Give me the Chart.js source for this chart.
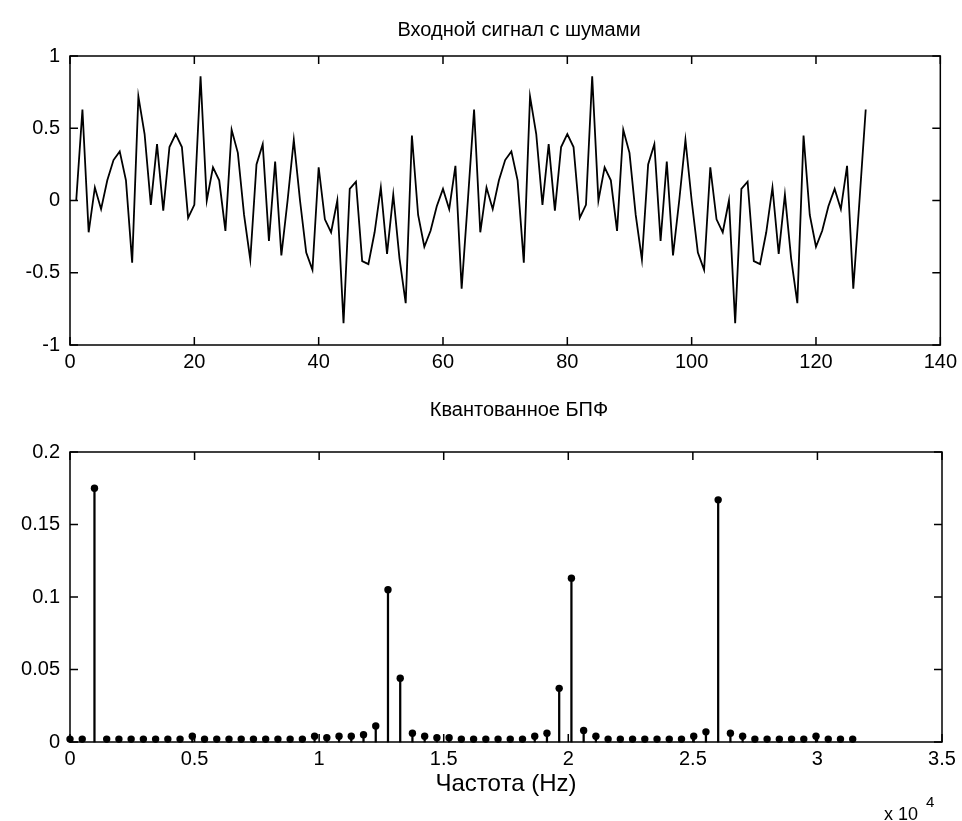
<!DOCTYPE html>
<html>
<head>
<meta charset="utf-8">
<script src="https://cdn.jsdelivr.net/npm/chart.js@4"></script>
<style>
html,body{margin:0;padding:0;background:#fff;}
#wrap{position:relative;width:962px;height:821px;overflow:hidden;background:#fff;}
.box{position:absolute;left:0;width:962px;}
</style>
</head>
<body>
<div id="wrap">
  <div class="box" style="top:0;height:385px"><canvas id="c1" width="962" height="385"></canvas></div>
  <div class="box" style="top:385px;height:436px"><canvas id="c2" width="962" height="436"></canvas></div>
</div>
<script>
// ---------- DATA ----------
const title1 = 'Входной сигнал с шумами';
const title2 = 'Квантованное БПФ';
const xLabel2 = 'Частота (Hz)';

// input signal, samples 1..128
const signal = [
   0.00, 0.63,-0.22, 0.09,-0.06, 0.14, 0.28, 0.34, 0.14,-0.43,
   0.72, 0.46,-0.03, 0.39,-0.07, 0.37, 0.46, 0.37,-0.12,-0.03,
   0.86, 0.00, 0.23, 0.14,-0.21, 0.49, 0.33,-0.10,-0.41, 0.25,
   0.39,-0.28, 0.27,-0.38, 0.00, 0.42, 0.00,-0.36,-0.48, 0.23,
  -0.13,-0.22, 0.00,-0.85, 0.08, 0.13,-0.42,-0.44,-0.22, 0.09,
  -0.37, 0.04,-0.40,-0.71, 0.45,-0.10,-0.32,-0.21,-0.04, 0.08,
  -0.06, 0.24,-0.61,
   0.00, 0.63,-0.22, 0.09,-0.06, 0.14, 0.28, 0.34, 0.14,-0.43,
   0.72, 0.46,-0.03, 0.39,-0.07, 0.37, 0.46, 0.37,-0.12,-0.03,
   0.86, 0.00, 0.23, 0.14,-0.21, 0.49, 0.33,-0.10,-0.41, 0.25,
   0.39,-0.28, 0.27,-0.38, 0.00, 0.42, 0.00,-0.36,-0.48, 0.23,
  -0.13,-0.22, 0.00,-0.85, 0.08, 0.13,-0.42,-0.44,-0.22, 0.09,
  -0.37, 0.04,-0.40,-0.71, 0.45,-0.10,-0.32,-0.21,-0.04, 0.08,
  -0.06, 0.24,-0.61,
   0.00, 0.63
];

// FFT bin frequencies (Hz)
const freqHz = [
      0,   491,   982,  1473,  1963,  2454,  2945,  3436,  3927,  4418,
   4909,  5400,  5890,  6381,  6872,  7363,  7854,  8345,  8836,  9327,
   9817, 10308, 10799, 11290, 11781, 12272, 12763, 13254, 13744, 14235,
  14726, 15217, 15708, 16199, 16690, 17181, 17671, 18162, 18653, 19144,
  19635, 20126, 20617, 21108, 21598, 22089, 22580, 23071, 23562, 24053,
  24544, 25035, 25525, 26016, 26507, 26998, 27489, 27980, 28471, 28962,
  29452, 29943, 30434, 30925, 31416
];
// quantized FFT magnitude
const fftMag = [
  0.002, 0.002, 0.175, 0.002, 0.002, 0.002, 0.002, 0.002, 0.002, 0.002,
  0.004, 0.002, 0.002, 0.002, 0.002, 0.002, 0.002, 0.002, 0.002, 0.002,
  0.004, 0.003, 0.004, 0.004, 0.005, 0.011, 0.105, 0.044, 0.006, 0.004,
  0.003, 0.003, 0.002, 0.002, 0.002, 0.002, 0.002, 0.002, 0.004, 0.006,
  0.037, 0.113, 0.008, 0.004, 0.002, 0.002, 0.002, 0.002, 0.002, 0.002,
  0.002, 0.004, 0.007, 0.167, 0.006, 0.004, 0.002, 0.002, 0.002, 0.002,
  0.002, 0.004, 0.002, 0.002, 0.002
];

const xTicks1 = [0, 20, 40, 60, 80, 100, 120, 140];
const xTickLabels1 = ['0','20','40','60','80','100','120','140'];
const yTicks1 = [-1, -0.5, 0, 0.5, 1];
const yTickLabels1 = ['-1','-0.5','0','0.5','1'];
const xTicks2 = [0, 5000, 10000, 15000, 20000, 25000, 30000, 35000];
const xTickLabels2 = ['0','0.5','1','1.5','2','2.5','3','3.5'];
const yTicks2 = [0, 0.05, 0.1, 0.15, 0.2];
const yTickLabels2 = ['0','0.05','0.1','0.15','0.2'];

// ---------- STYLE ----------
const FONT = '"Liberation Sans", Arial, Helvetica, sans-serif';
const TICK_SIZE = 20;
Chart.defaults.font.family = FONT;
Chart.defaults.color = '#000';
Chart.defaults.animation = false;

function labelFrom(ticks, labels) {
  return function (v) {
    for (let i = 0; i < ticks.length; i++) if (Math.abs(ticks[i] - v) < 1e-9) return labels[i];
    return '';
  };
}
function fixedTicks(ticks) {
  return function (scale) { scale.ticks = ticks.map(v => ({ value: v })); };
}

const matlabBox = {
  id: 'matlabBox',
  beforeDatasetsDraw(chart) {
    const { ctx, chartArea: a, scales: { x, y } } = chart;
    const L = 8;
    ctx.save();
    ctx.strokeStyle = '#000';
    ctx.lineWidth = 1.5;
    ctx.strokeRect(a.left, a.top, a.right - a.left, a.bottom - a.top);
    ctx.beginPath();
    x.ticks.forEach(t => {
      const px = x.getPixelForValue(t.value);
      ctx.moveTo(px, a.bottom); ctx.lineTo(px, a.bottom - L);
      ctx.moveTo(px, a.top); ctx.lineTo(px, a.top + L);
    });
    y.ticks.forEach(t => {
      const py = y.getPixelForValue(t.value);
      ctx.moveTo(a.left, py); ctx.lineTo(a.left + L, py);
      ctx.moveTo(a.right, py); ctx.lineTo(a.right - L, py);
    });
    ctx.stroke();
    ctx.restore();
  },
  afterDraw(chart, args, opts) {
    const { ctx } = chart;
    ctx.save();
    ctx.fillStyle = '#000';
    ctx.textAlign = 'center';
    ctx.textBaseline = 'middle';
    ctx.font = '20px ' + FONT;
    ctx.fillText(opts.title, opts.tx, opts.ty);
    if (opts.exp) {
      ctx.textAlign = 'left';
      ctx.textBaseline = 'alphabetic';
      ctx.font = '18px ' + FONT;
      ctx.fillText('x 10', 884, 435);
      ctx.font = '15px ' + FONT;
      ctx.fillText('4', 926, 422);
    }
    ctx.restore();
  }
};

function baseScales(xmin, xmax, xt, xl, ymin, ymax, yt, yl, xHeight) {
  return {
    x: {
      type: 'linear', min: xmin, max: xmax, offset: false,
      grid: { display: false, drawTicks: false }, border: { display: false },
      afterBuildTicks: fixedTicks(xt),
      afterFit: s => { s.height = xHeight; },
      ticks: { callback: labelFrom(xt, xl), font: { size: TICK_SIZE }, padding: 5, maxRotation: 0, autoSkip: false, color: '#000' }
    },
    y: {
      type: 'linear', min: ymin, max: ymax,
      grid: { display: false, drawTicks: false }, border: { display: false },
      afterBuildTicks: fixedTicks(yt),
      afterFit: s => { s.width = 70; },
      ticks: { callback: labelFrom(yt, yl), font: { size: TICK_SIZE }, padding: 10, autoSkip: false, color: '#000' }
    }
  };
}

// ---------- TOP CHART ----------
const sigPoints = signal.map((v, i) => ({ x: i + 1, y: v }));
new Chart(document.getElementById('c1'), {
  type: 'line',
  data: { datasets: [{ data: sigPoints, borderColor: '#000', borderWidth: 1.8, pointRadius: 0, tension: 0, fill: false }] },
  options: {
    responsive: false, devicePixelRatio: 1,
    layout: { padding: { left: 0, right: 20, top: 56, bottom: 0 } },
    plugins: {
      legend: { display: false }, tooltip: { enabled: false }, title: { display: false },
      matlabBox: { title: title1, tx: 519, ty: 30, exp: false }
    },
    scales: baseScales(0, 140, xTicks1, xTickLabels1, -1, 1, yTicks1, yTickLabels1, 40)
  },
  plugins: [matlabBox]
});

// ---------- BOTTOM CHART ----------
const fftPoints = freqHz.map((f, i) => ({ x: f, y: fftMag[i] }));
const sc2 = baseScales(0, 35000, xTicks2, xTickLabels2, 0, 0.2, yTicks2, yTickLabels2, 79);
sc2.x.title = { display: true, text: xLabel2, color: '#000', font: { size: 24, weight: 'normal' }, padding: { top: 0, bottom: 22 } };
new Chart(document.getElementById('c2'), {
  type: 'bar',
  data: {
    datasets: [
      { type: 'scatter', data: fftPoints, pointRadius: 3.7, pointBackgroundColor: '#000', pointBorderColor: '#000', pointBorderWidth: 0, showLine: false, clip: false, order: 0 },
      { type: 'bar', data: fftPoints, backgroundColor: '#000', borderWidth: 0, barThickness: 1.6, grouped: false, clip: false, order: 1 }
    ]
  },
  options: {
    responsive: false, devicePixelRatio: 1,
    layout: { padding: { left: 0, right: 20, top: 67, bottom: 0 } },
    plugins: {
      legend: { display: false }, tooltip: { enabled: false }, title: { display: false },
      matlabBox: { title: title2, tx: 519, ty: 25, exp: true }
    },
    scales: sc2
  },
  plugins: [matlabBox]
});
</script>
</body>
</html>
